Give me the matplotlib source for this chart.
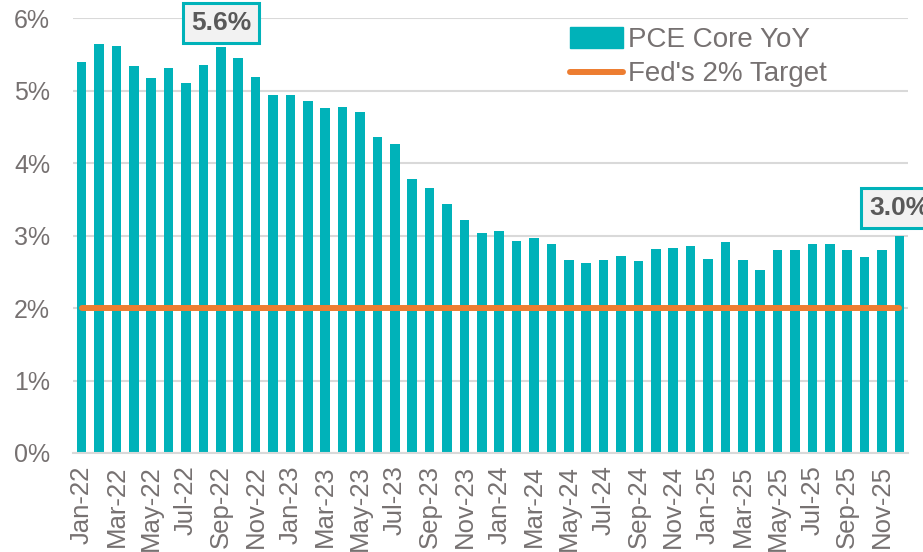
import numpy as np
import matplotlib.pyplot as plt
from matplotlib.patches import Patch
from matplotlib.lines import Line2D

plt.rcParams['font.family'] = ['Liberation Sans', 'DejaVu Sans']

months = ['Jan', 'Feb', 'Mar', 'Apr', 'May', 'Jun',
          'Jul', 'Aug', 'Sep', 'Oct', 'Nov', 'Dec']
years = ['22', '23', '24', '25']
dates = [f'{m}-{y}' for y in years for m in months]

pce_core = [5.40, 5.65, 5.62, 5.34, 5.18, 5.32, 5.11, 5.35, 5.60, 5.45, 5.19, 4.94,
            4.94, 4.86, 4.76, 4.77, 4.70, 4.36, 4.27, 3.78, 3.66, 3.44, 3.22, 3.03,
            3.06, 2.92, 2.97, 2.88, 2.66, 2.62, 2.66, 2.72, 2.65, 2.82, 2.83, 2.86,
            2.68, 2.91, 2.66, 2.52, 2.80, 2.80, 2.89, 2.89, 2.80, 2.70, 2.80, 3.00]
fed_target = 2.0

teal = '#00B2B9'
orange = '#ED7D31'
grey = '#767171'

fig = plt.figure(figsize=(9.23, 5.52), dpi=100)
ax = fig.add_axes([73 / 923, 1 - 453 / 552, 835 / 923, (453 - 18.3) / 552])

x = np.arange(len(dates))
ax.bar(x, pce_core, width=0.55, color=teal, zorder=2)
ax.plot(x, [fed_target] * len(x), color=orange, lw=4.3,
        solid_capstyle='round', zorder=3)

ax.set_xlim(-0.5, len(dates) - 0.5)
ax.set_ylim(0, 6)
ax.set_yticks(range(7))
ax.set_yticklabels([f'{v}%' for v in range(7)], fontsize=18, color=grey)
ax.set_xticks(x[::2])
ax.set_xticklabels(dates[::2], rotation=90, fontsize=18.5, color=grey)
ax.tick_params(length=0)
ax.tick_params(axis='y', pad=16.5)
ax.tick_params(axis='x', pad=9)
ax.grid(axis='y', color='#D9D9D9', lw=1.5, zorder=0)
for s in ['left', 'right', 'top']:
    ax.spines[s].set_visible(False)
ax.spines['bottom'].set_color('#D9D9D9')
ax.spines['bottom'].set_linewidth(1.5)

box = dict(boxstyle='square,pad=0.3', fc='#F2F2F2', ec=teal, lw=2.2)
peak = int(np.argmax(pce_core[6:])) + 6
ax.text(peak, 5.94, f'{pce_core[peak]:.1f}%', ha='center', va='center',
        fontsize=19, fontweight='bold', color='#595959', bbox=box,
        zorder=5, clip_on=False)
ax.text(len(dates) - 1, 3.38, f'{pce_core[-1]:.1f}%', ha='center', va='center',
        fontsize=19, fontweight='bold', color='#595959', bbox=box,
        zorder=5, clip_on=False)

handles = [Patch(color=teal, label='PCE Core YoY'),
           Line2D([0], [0], color=orange, lw=4.3, solid_capstyle='round',
                  label="Fed's 2% Target")]
leg = fig.legend(handles=handles, loc='upper left',
                 bbox_to_anchor=(559 / 923, 1 - 16 / 552), frameon=False,
                 fontsize=20, handlelength=1.9, handleheight=0.75,
                 handletextpad=0.2, labelspacing=0.3, borderaxespad=0)
for t in leg.get_texts():
    t.set_color(grey)

fig.savefig('out.png', dpi=100, facecolor='white')
